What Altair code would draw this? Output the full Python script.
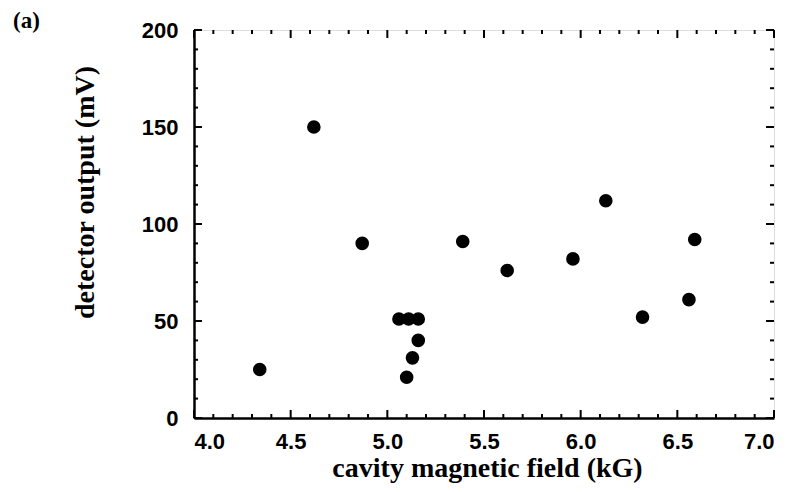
import altair as alt
import pandas as pd

# data points
field_kG = [4.34, 4.62, 4.87, 5.06, 5.11, 5.16, 5.10, 5.13, 5.16, 5.39, 5.62, 5.96, 6.13, 6.32, 6.56, 6.59]
output_mV = [25, 150, 90, 51, 51, 51, 21, 31, 40, 91, 76, 82, 112, 52, 61, 92]

# axis tick values
x_labels = [4.0, 4.5, 5.0, 5.5, 6.0, 6.5, 7.0]
x_minor = [4.1, 4.2, 4.3, 4.4, 4.6, 4.7, 4.8, 4.9, 5.1, 5.2, 5.3, 5.4,
           5.6, 5.7, 5.8, 5.9, 6.1, 6.2, 6.3, 6.4, 6.6, 6.7, 6.8, 6.9]
y_labels = [0, 50, 100, 150, 200]
y_minor = [10, 20, 30, 40, 60, 70, 80, 90, 110, 120, 130, 140, 160, 170, 180, 190]

panel_label = ["(a)"]

W, H = 580, 388
MAJ, MIN = 8, 4

pts = pd.DataFrame({"B": field_kG, "V": output_mV})
xmaj = pd.DataFrame({"B": x_labels})
xmin = pd.DataFrame({"B": x_minor})
ymaj = pd.DataFrame({"V": y_labels})
ymin = pd.DataFrame({"V": y_minor})
lab = pd.DataFrame({"t": panel_label})

xscale = alt.Scale(domain=[4.0, 7.0], nice=False, zero=False)
yscale = alt.Scale(domain=[0, 200], nice=False, zero=False)

xaxis = alt.Axis(
    values=x_labels, format=".1f", ticks=False, tickSize=0, grid=False,
    domainColor="black", domainWidth=2.5,
    labelFont="Liberation Sans", labelFontWeight="bold", labelFontSize=22,
    labelColor="black", labelPadding=13, labelBaseline="top",
    title="cavity magnetic field (kG)", titleFont="Liberation Serif",
    titleFontWeight="bold", titleFontSize=28, titleColor="black",
    titleX=293, titleY=58, titleAlign="center", titleBaseline="alphabetic",
)
yaxis = alt.Axis(
    values=y_labels, ticks=False, tickSize=0, grid=False,
    domainColor="black", domainWidth=2.5,
    labelFont="Liberation Sans", labelFontWeight="bold", labelFontSize=22,
    labelColor="black", labelPadding=16, labelBaseline="middle",
    title="detector output (mV)", titleFont="Liberation Serif",
    titleFontWeight="bold", titleFontSize=28, titleColor="black",
    titleX=-101, titleY=162, titleAlign="center", titleBaseline="alphabetic",
    titleAngle=270,
)

points = alt.Chart(pts).mark_circle(size=185, color="black", opacity=1).encode(
    x=alt.X("B:Q", scale=xscale, axis=xaxis),
    y=alt.Y("V:Q", scale=yscale, axis=yaxis),
)

def xticks(df, length, top):
    if top:
        enc = dict(y=alt.value(0), y2=alt.value(length))
    else:
        enc = dict(y=alt.value(H), y2=alt.value(H - length))
    return alt.Chart(df).mark_rule(color="black", strokeWidth=2).encode(
        x=alt.X("B:Q", scale=xscale), **enc)

def yticks(df, length, right):
    if right:
        enc = dict(x=alt.value(W), x2=alt.value(W - length))
    else:
        enc = dict(x=alt.value(0), x2=alt.value(length))
    return alt.Chart(df).mark_rule(color="black", strokeWidth=2).encode(
        y=alt.Y("V:Q", scale=yscale), **enc)

label = alt.Chart(lab).mark_text(
    font="Liberation Serif", fontWeight="bold", fontSize=23, color="black",
    align="left", baseline="alphabetic",
).encode(text="t:N", x=alt.value(-181), y=alt.value(-2))

layers = [
    xticks(xmaj, MAJ, False), xticks(xmaj, MAJ, True),
    xticks(xmin, MIN, False), xticks(xmin, MIN, True),
    yticks(ymaj, MAJ, False), yticks(ymaj, MAJ, True),
    yticks(ymin, MIN, False), yticks(ymin, MIN, True),
    points, label,
]

chart = alt.layer(*layers).properties(
    width=W, height=H,
    autosize=alt.AutoSizeParams(type="none"),
    padding={"left": 186, "top": 22, "right": 15, "bottom": 74},
).configure_view(stroke="black", strokeWidth=2.5).configure(background="white")

chart.save("out.html", embed_options={"renderer": "svg", "actions": False})
